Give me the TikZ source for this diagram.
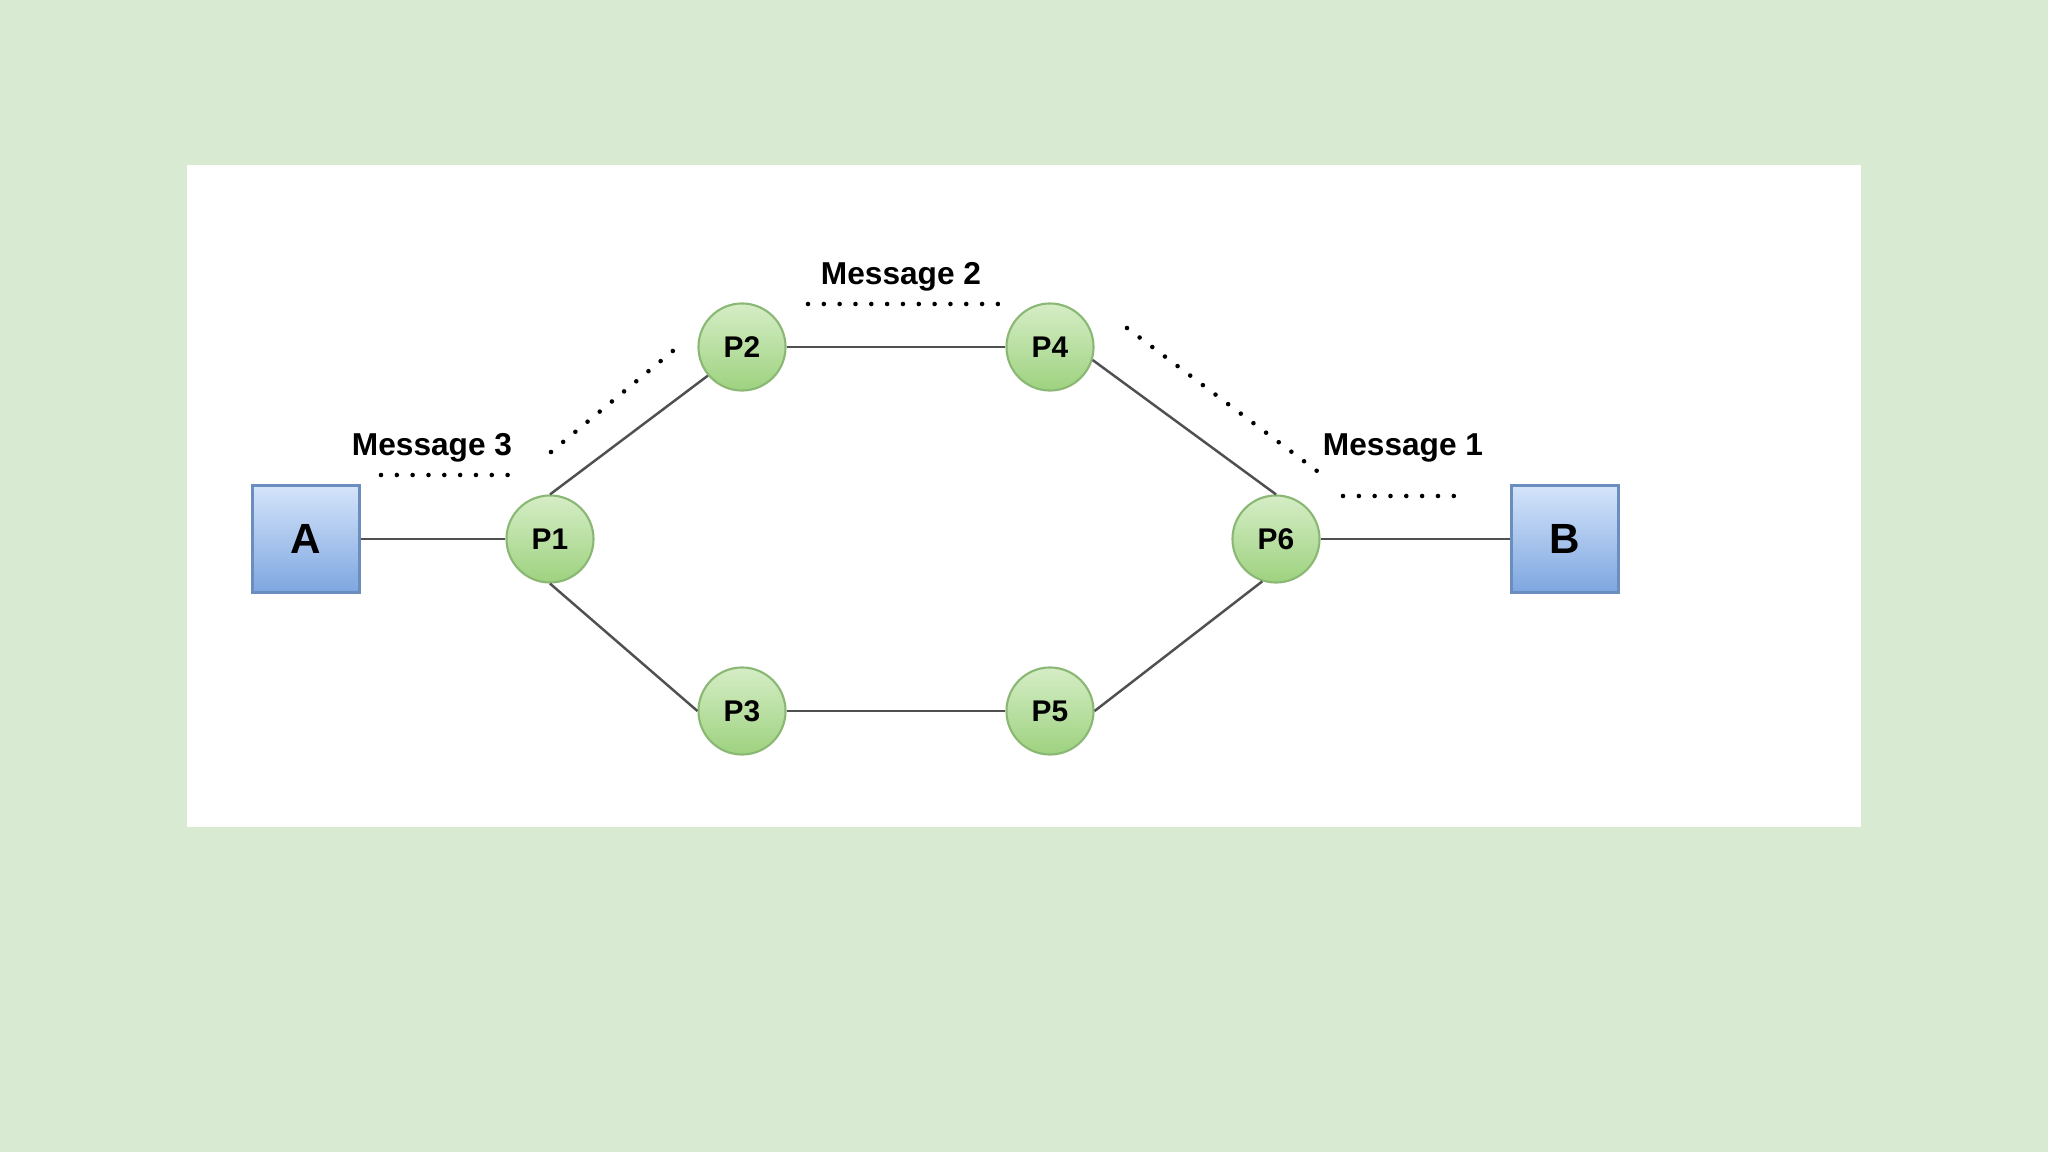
\documentclass[tikz,border=0pt]{standalone}
\usepackage{fontspec}
\setmainfont{Liberation Sans}
\definecolor{bgGreen}{HTML}{D9EAD3}
\definecolor{procTop}{HTML}{D5EDC6}
\definecolor{procBot}{HTML}{9ED27F}
\definecolor{procEdge}{HTML}{8AB874}
\definecolor{hostTop}{HTML}{D4E4FA}
\definecolor{hostBot}{HTML}{7EA6E0}
\definecolor{hostEdge}{HTML}{6C8EBF}
\definecolor{linkGray}{HTML}{505050}
\begin{document}
\begin{tikzpicture}[
  x=0.01cm,y=-0.01cm,
  proc/.style={circle,draw=procEdge,line width=0.6pt,top color=procTop,bottom color=procBot,
               minimum size=0.87cm,inner sep=0pt,font=\bfseries\fontsize{8.5}{10}\selectfont},
  host/.style={rectangle,draw=hostEdge,line width=0.6pt,top color=hostTop,bottom color=hostBot,
               minimum size=1.07cm,inner sep=0pt,font=\bfseries\fontsize{12}{14}\selectfont},
  link/.style={draw=linkGray,line width=0.7pt},
  msg/.style={font=\bfseries\fontsize{9}{11}\selectfont},
  trail/.style={line width=1.3pt,dash pattern=on 0pt off 4.5pt,line cap=round}
  ]
  \useasboundingbox (0,0) rectangle (2048,1152);
  \fill[bgGreen] (0,0) rectangle (2048,1152);
  \fill[white] (187,165) rectangle (1861,827);
  % hosts and routers
  \node [host] (A) at (306,539) {A};
  \node [host] (B) at (1565,539) {B};
  \node [proc] (p1) at (550,539) {P1};
  \node [proc] (p2) at (742,347) {P2};
  \node [proc] (p3) at (742,711) {P3};
  \node [proc] (p4) at (1050,347) {P4};
  \node [proc] (p5) at (1050,711) {P5};
  \node [proc] (p6) at (1276,539) {P6};
  % links
  \draw [link] (A) -- (p1);
  \draw [link] (p1.north) -- (p2.220);
  \draw [link] (p1.south) -- (p3.west);
  \draw [link] (p2) -- (p4);
  \draw [link] (p3) -- (p5);
  \draw [link] (p4.343) -- (p6.north);
  \draw [link] (p5.east) -- (p6.252);
  \draw [link] (p6) -- (B);
  % messages
  \node [msg] (msg1) at (1403,448) {Message 1};
  \node [msg] (msg2) at (901,277) {Message 2};
  \node [msg] (msg3) at (432,448) {Message 3};
  \coordinate (m1a) at (1127,328); \coordinate (m1b) at (1317,471);
  \coordinate (m1c) at (1343,496); \coordinate (m1d) at (1464,496);
  \coordinate (m2a) at (808,304);  \coordinate (m2b) at (999,304);
  \coordinate (m3a) at (551,452);  \coordinate (m3b) at (674,350);
  \coordinate (m3c) at (381,475);  \coordinate (m3d) at (520,475);
  \draw [trail] (m1a) -- (m1b);
  \draw [trail] (m1c) -- (m1d);
  \draw [trail] (m2a) -- (m2b);
  \draw [trail] (m3a) -- (m3b);
  \draw [trail] (m3c) -- (m3d);
\end{tikzpicture}
\end{document}
